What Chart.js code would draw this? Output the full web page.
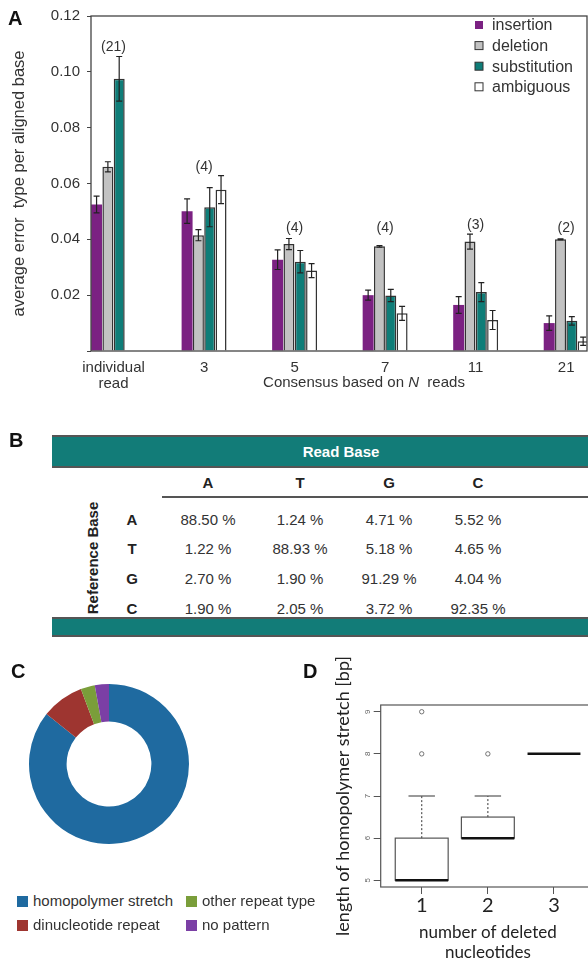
<!DOCTYPE html>
<html>
<head>
<meta charset="utf-8">
<script src="https://cdn.jsdelivr.net/npm/chart.js@4.4.0/dist/chart.umd.min.js"></script>
<style>
  html, body { margin: 0; padding: 0; background: #fff; }
  #page { position: relative; width: 588px; height: 963px; overflow: hidden;
          font-family: 'Liberation Sans', Arial, sans-serif; color: #333; }
  canvas { position: absolute; }
  .abs { position: absolute; white-space: nowrap; }
  .panel { font-weight: bold; font-size: 20px; color: #111; line-height: 20px; }
  .bar { background: #127c78; border-top: 2px solid #555; border-bottom: 2px solid #555; }
  .cell { position: absolute; width: 90px; margin-left: -45px; text-align: center; font-size: 15px; line-height: 18px; margin-top: -9px; }
  .hd { font-weight: bold; color: #222; }
  .lg { position: absolute; font-size: 15px; line-height: 16px; margin-top: -8px; color: #333; }
  .lg i { display: inline-block; width: 11px; height: 11px; vertical-align: -1px; margin-right: 5px; }
</style>
</head>
<body>
<div id="page">
  <canvas id="chartA" width="600" height="400" style="left:0;top:0"></canvas>
  <canvas id="chartC" width="200" height="200" style="left:9px;top:664px"></canvas>
  <canvas id="chartD" width="300" height="313" style="left:300px;top:650px"></canvas>
  <div id="tableB"></div>
  <div id="legendC"></div>
  <div class="abs panel" style="left:8px;top:8px">A</div>
  <div class="abs panel" style="left:9px;top:430px">B</div>
  <div class="abs panel" style="left:11px;top:661px">C</div>
  <div class="abs panel" style="left:303px;top:661px">D</div>
</div>
<script>
// Panel A: error rates per aligned base
const groupLabels = [['individual', 'read'], '3', '5', '7', '11', '21'];
const groupPos = [0, 1, 2, 3, 4, 5];
const insertion = [0.0525, 0.0501, 0.0327, 0.0200, 0.0165, 0.0100];
const insertionErr = [0.0030, 0.0044, 0.0035, 0.0018, 0.0030, 0.0026];
const deletion = [0.0660, 0.0415, 0.0383, 0.0375, 0.0392, 0.0400];
const deletionErr = [0.0018, 0.0020, 0.0020, 0.0003, 0.0027, 0.0002];
const substitution = [0.0975, 0.0515, 0.0320, 0.0199, 0.0211, 0.0108];
const substitutionErr = [0.0080, 0.0070, 0.0040, 0.0022, 0.0034, 0.0015];
const ambiguous = [null, 0.0578, 0.0288, 0.0135, 0.0111, 0.0035];
const ambiguousErr = [null, 0.0050, 0.0025, 0.0025, 0.0034, 0.0015];
const groupCounts = ['(21)', '(4)', '(4)', '(4)', '(3)', '(2)'];
const yTicksA = [0, 0.02, 0.04, 0.06, 0.08, 0.10, 0.12];

// Panel B: read base vs reference base
const readBases = ['A', 'T', 'G', 'C'];
const refBases = ['A', 'T', 'G', 'C'];
const refA = ['88.50 %', '1.24 %', '4.71 %', '5.52 %'];
const refT = ['1.22 %', '88.93 %', '5.18 %', '4.65 %'];
const refG = ['2.70 %', '1.90 %', '91.29 %', '4.04 %'];
const refC = ['1.90 %', '2.05 %', '3.72 %', '92.35 %'];

// Panel C: deletion context
const repeatLabels = ['homopolymer stretch', 'dinucleotide repeat', 'other repeat type', 'no pattern'];
const repeatCounts = [30, 3, 1, 1];
const repeatColors = ['#1f6aa0', '#9e3530', '#7a9e3a', '#7b3fa5'];

// Panel D: homopolymer length by deleted nucleotides
const deletedN = [1, 2, 3];
const boxLo = [5, 6, 8];
const boxQ1 = [5, 6, 8];
const boxMed = [5, 6, 8];
const boxQ3 = [6, 6.5, 8];
const boxHi = [7, 7, 8];
const outlierX = [1, 1, 2];
const outlierY = [8, 9, 8];
const yTicksD = [5, 6, 7, 8, 9];

const FONT = "'Liberation Sans', Arial, sans-serif";
Chart.defaults.font.family = FONT;
Chart.defaults.color = '#333';

// ---------------- A ----------------
const seriesA = [
  { label: 'insertion', data: insertion, err: insertionErr, bg: '#7b2182', border: 0 },
  { label: 'deletion', data: deletion, err: deletionErr, bg: '#c2c2c2', border: 1.5 },
  { label: 'substitution', data: substitution, err: substitutionErr, bg: '#0f7d78', border: 1.5 },
  { label: 'ambiguous', data: ambiguous, err: ambiguousErr, bg: '#ffffff', border: 1.5 },
];

const decorA = {
  id: 'decorA',
  afterDatasetsDraw(chart) {
    const { ctx, chartArea: a, scales: { x, y } } = chart;
    ctx.save();
    // frame
    ctx.strokeStyle = '#444';
    ctx.lineWidth = 1.3;
    ctx.strokeRect(a.left, a.top, a.right - a.left, a.bottom - a.top);
    // error bars
    ctx.strokeStyle = '#222';
    ctx.lineWidth = 1.2;
    seriesA.forEach((s, i) => {
      const meta = chart.getDatasetMeta(i);
      meta.data.forEach((bar, j) => {
        if (s.data[j] == null) return;
        const y1 = y.getPixelForValue(s.data[j] + s.err[j]);
        const y2 = y.getPixelForValue(s.data[j] - s.err[j]);
        ctx.beginPath();
        ctx.moveTo(bar.x, y1); ctx.lineTo(bar.x, y2);
        ctx.moveTo(bar.x - 3, y1); ctx.lineTo(bar.x + 3, y1);
        ctx.moveTo(bar.x - 3, y2); ctx.lineTo(bar.x + 3, y2);
        ctx.stroke();
      });
    });
    // counts above groups
    ctx.fillStyle = '#333';
    ctx.font = '14px ' + FONT;
    ctx.textAlign = 'center';
    ctx.textBaseline = 'middle';
    groupPos.forEach((g, j) => {
      let top = 0;
      seriesA.forEach(s => { if (s.data[j] != null) top = Math.max(top, s.data[j] + s.err[j]); });
      top = Math.max(top, 0.0409);
      ctx.fillText(groupCounts[j], x.getPixelForValue(g), y.getPixelForValue(top) - 9);
    });
    // legend
    ctx.font = '16px ' + FONT;
    ctx.textAlign = 'left';
    seriesA.forEach((s, i) => {
      const cy = 25 + i * 20.6;
      ctx.fillStyle = s.bg;
      ctx.fillRect(475, cy - 4, 8, 8);
      if (s.border) { ctx.strokeStyle = '#333'; ctx.lineWidth = 1; ctx.strokeRect(475, cy - 4, 8, 8); }
      ctx.fillStyle = '#333';
      ctx.fillText(s.label, 492, cy + 1);
    });
    // x title with italic N
    const parts = [['Consensus based on ', ''], ['N', 'italic '], ['  reads', '']];
    let total = 0;
    parts.forEach(p => { ctx.font = p[1] + '15px ' + FONT; total += ctx.measureText(p[0]).width; });
    let px = 364 - total / 2;
    parts.forEach(p => {
      ctx.font = p[1] + '15px ' + FONT;
      ctx.fillText(p[0], px, 383);
      px += ctx.measureText(p[0]).width;
    });
    ctx.restore();
  }
};

new Chart(document.getElementById('chartA'), {
  type: 'bar',
  data: {
    datasets: seriesA.map(s => ({
      label: s.label,
      data: groupPos.map((g, j) => ({ x: g, y: s.data[j] })),
      backgroundColor: s.bg,
      borderColor: '#333',
      borderWidth: s.border,
      categoryPercentage: 0.5,
      barPercentage: 0.97,
    })),
  },
  options: {
    responsive: false,
    animation: false,
    layout: { padding: { top: 13, right: 13, left: 0, bottom: 0 } },
    plugins: { legend: { display: false }, tooltip: { enabled: false } },
    scales: {
      x: {
        type: 'linear', min: -0.249, max: 5.23, offset: false,
        afterBuildTicks: s => { s.ticks = groupPos.map(v => ({ value: v })); },
        afterFit: s => { s.height = 49; },
        grid: { display: false },
        border: { display: false },
        ticks: { callback: v => groupLabels[v], font: { size: 15, lineHeight: 1.1 }, color: '#333', padding: 0.5, maxRotation: 0 },
      },
      y: {
        min: 0, max: 0.12,
        afterBuildTicks: s => { s.ticks = yTicksA.map(v => ({ value: v })); },
        afterFit: s => { s.width = 91; },
        grid: { drawOnChartArea: false, tickLength: 4, color: '#444' },
        border: { display: false },
        ticks: { callback: v => (v === 0 ? '' : v.toFixed(2)), font: { size: 15 }, color: '#333', padding: 7 },
        title: { display: true, text: 'average error  type per aligned base', font: { size: 16.5 }, color: '#333', padding: { top: 10, bottom: 0 } },
      },
    },
  },
  plugins: [decorA],
});

// ---------------- B ----------------
const tb = document.getElementById('tableB');
const colX = [208, 300, 389, 478];
const rowY = [520, 549, 579, 609];
let html = '';
html += '<div class="abs bar" style="left:52px;top:435px;width:578px;height:29px"></div>';
html += '<div class="abs" style="left:52px;top:435px;width:578px;line-height:33px;text-align:center;color:#fff;font-weight:bold;font-size:15px">Read Base</div>';
html += '<div class="abs" style="left:162px;top:496px;width:440px;height:0;border-top:2px solid #555"></div>';
html += '<div class="abs bar" style="left:52px;top:617px;width:578px;height:16px"></div>';
html += '<div class="abs hd" style="left:93px;top:558px;font-size:15px;line-height:18px;transform:translate(-50%,-50%) rotate(-90deg)">Reference Base</div>';
readBases.forEach((b, i) => { html += `<div class="cell hd" style="left:${colX[i]}px;top:483px">${b}</div>`; });
[refA, refT, refG, refC].forEach((row, r) => {
  html += `<div class="cell hd" style="left:132px;top:${rowY[r]}px">${refBases[r]}</div>`;
  row.forEach((v, i) => { html += `<div class="cell" style="left:${colX[i]}px;top:${rowY[r]}px">${v}</div>`; });
});
tb.innerHTML = html;

// ---------------- C ----------------
new Chart(document.getElementById('chartC'), {
  type: 'doughnut',
  data: { labels: repeatLabels, datasets: [{ data: repeatCounts, backgroundColor: repeatColors, borderWidth: 0 }] },
  options: {
    responsive: false,
    animation: false,
    cutout: '53%',
    layout: { padding: 20 },
    plugins: { legend: { display: false }, tooltip: { enabled: false } },
  },
});
const legPos = [[17, 901], [17, 925], [186, 901], [186, 925]];
document.getElementById('legendC').innerHTML = repeatLabels.map((l, i) =>
  `<div class="lg" style="left:${legPos[i][0]}px;top:${legPos[i][1]}px"><i style="background:${repeatColors[i]}"></i>${l}</div>`
).join('');

// ---------------- D ----------------
const boxD = {
  id: 'boxD',
  afterDatasetsDraw(chart) {
    const { ctx, chartArea: a, scales: { x, y } } = chart;
    ctx.save();
    ctx.strokeStyle = '#555';
    ctx.lineWidth = 1.2;
    ctx.strokeRect(a.left, a.top, a.right - a.left, a.bottom - a.top);
    deletedN.forEach((g, i) => {
      const cx = x.getPixelForValue(g);
      const hw = x.getPixelForValue(g + 0.4) - cx;
      const cw = hw / 2;
      const pq1 = y.getPixelForValue(boxQ1[i]);
      const pq3 = y.getPixelForValue(boxQ3[i]);
      const pmed = y.getPixelForValue(boxMed[i]);
      const plo = y.getPixelForValue(boxLo[i]);
      const phi = y.getPixelForValue(boxHi[i]);
      ctx.strokeStyle = '#555';
      ctx.lineWidth = 1.2;
      // whiskers
      ctx.setLineDash([2, 2]);
      ctx.beginPath();
      if (boxHi[i] > boxQ3[i]) { ctx.moveTo(cx, pq3); ctx.lineTo(cx, phi); }
      if (boxLo[i] < boxQ1[i]) { ctx.moveTo(cx, pq1); ctx.lineTo(cx, plo); }
      ctx.stroke();
      ctx.setLineDash([]);
      ctx.beginPath();
      if (boxHi[i] > boxQ3[i]) { ctx.moveTo(cx - cw, phi); ctx.lineTo(cx + cw, phi); }
      if (boxLo[i] < boxQ1[i]) { ctx.moveTo(cx - cw, plo); ctx.lineTo(cx + cw, plo); }
      ctx.stroke();
      if (boxQ3[i] > boxQ1[i]) ctx.strokeRect(cx - hw, pq3, 2 * hw, pq1 - pq3);
      ctx.strokeStyle = '#111';
      ctx.lineWidth = 2.5;
      ctx.beginPath();
      ctx.moveTo(cx - hw, pmed); ctx.lineTo(cx + hw, pmed);
      ctx.stroke();
    });
    // rotated tiny y tick labels
    ctx.fillStyle = '#666';
    ctx.font = '8px ' + FONT;
    ctx.textAlign = 'center';
    ctx.textBaseline = 'middle';
    yTicksD.forEach(v => {
      ctx.save();
      ctx.translate(a.left - 13, y.getPixelForValue(v));
      ctx.rotate(-Math.PI / 2);
      ctx.fillText(String(v), 0, 0);
      ctx.restore();
    });
    ctx.restore();
  }
};

new Chart(document.getElementById('chartD'), {
  type: 'scatter',
  data: {
    datasets: [{
      data: outlierX.map((v, i) => ({ x: v, y: outlierY[i] })),
      pointRadius: 2.2,
      pointBorderWidth: 0.8,
      pointBorderColor: '#555',
      pointBackgroundColor: 'rgba(0,0,0,0)',
    }],
  },
  options: {
    responsive: false,
    animation: false,
    layout: { padding: { top: 55, right: 5, left: 0, bottom: 0 } },
    plugins: { legend: { display: false }, tooltip: { enabled: false } },
    scales: {
      x: {
        type: 'linear', min: 0.38, max: 3.62,
        afterBuildTicks: s => { s.ticks = deletedN.map(v => ({ value: v })); },
        afterFit: s => { s.height = 76; },
        grid: { drawOnChartArea: false, tickLength: 7, color: '#555' },
        border: { display: false },
        ticks: { font: { family: 'Lato', size: 20 }, color: '#222', padding: 0 },
        title: { display: true, text: ['number of deleted', 'nucleotides'], font: { family: 'Lato', size: 17, lineHeight: 1.18 }, color: '#222', padding: { top: 0, bottom: 0 } },
      },
      y: {
        min: 4.84, max: 9.16,
        afterBuildTicks: s => { s.ticks = yTicksD.map(v => ({ value: v })); },
        afterFit: s => { s.width = 80.7; },
        grid: { drawOnChartArea: false, tickLength: 7, color: '#555' },
        border: { display: false },
        ticks: { display: false },
        title: { display: true, text: 'length of homopolymer stretch [bp]', font: { family: 'Lato', size: 18, lineHeight: 1.1 }, color: '#222', padding: { top: 33, bottom: 0 } },
      },
    },
  },
  plugins: [boxD],
});
</script>
</body>
</html>
